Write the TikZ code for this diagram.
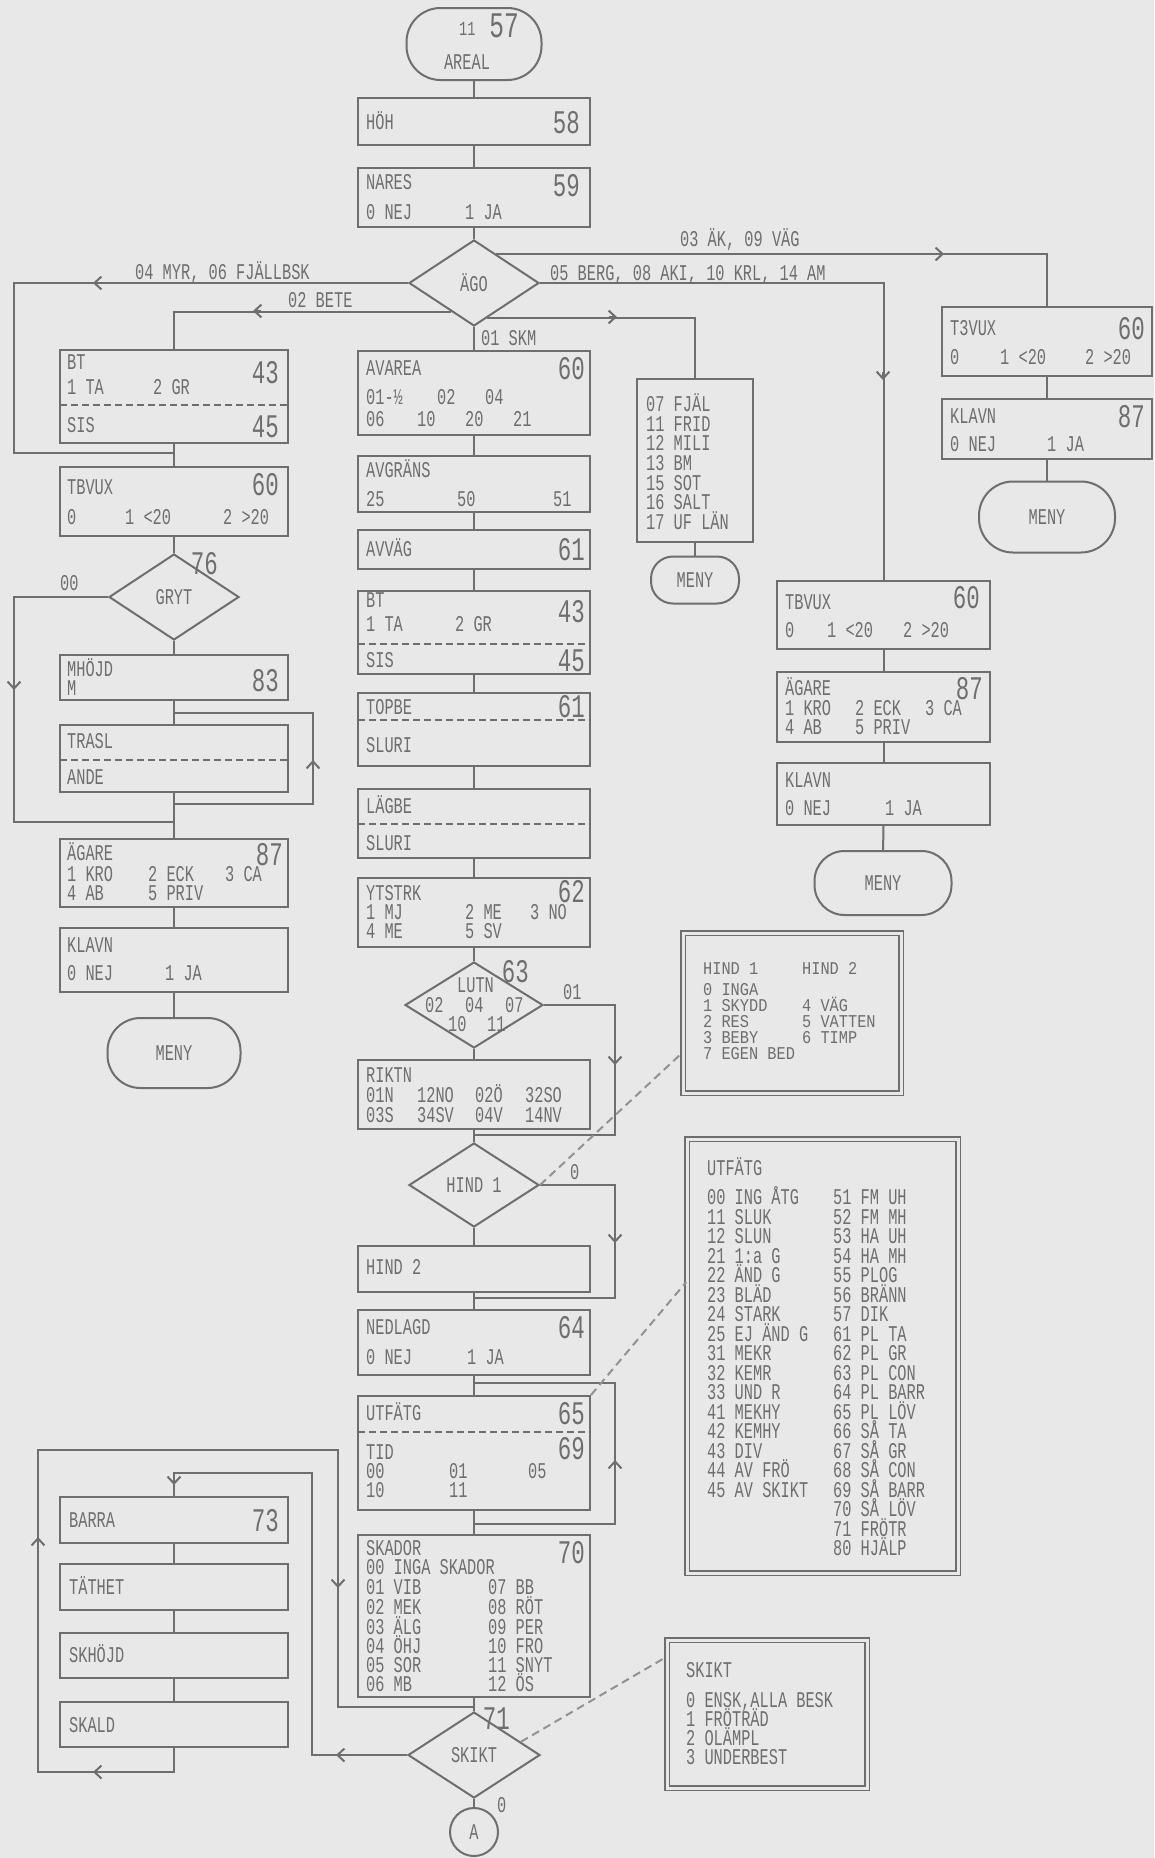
\documentclass[tikz,border=0pt]{standalone}
\usepackage{fontspec}
\usetikzlibrary{shapes.geometric,arrows.meta,calc}
\newfontfamily\monoA{Liberation Mono}[FakeStretch=0.68]
\newfontfamily\monoB{Liberation Mono}[FakeStretch=0.85]
\definecolor{bg}{RGB}{232,232,232}
\definecolor{ink}{RGB}{110,110,110}
\newcommand\sfnt{\monoA\fontsize{22.5pt}{20pt}\selectfont}
\newcommand\bfnt{\monoA\fontsize{33pt}{33pt}\selectfont}
\newcommand\hfnt{\monoB\fontsize{18pt}{15pt}\selectfont}
\newcount\mytnum
\newcommand\mytx[3]{\global\advance\mytnum by 1\relax\node[txt] (T\the\mytnum) at (#1,#2) {#3};}
\newcommand\mynum[3]{\global\advance\mytnum by 1\relax\node[num] (T\the\mytnum) at (#1,#2) {#3};}
\newcommand\myhx[3]{\global\advance\mytnum by 1\relax\node[txt,font=\hfnt,text height=12pt] (T\the\mytnum) at (#1,#2) {#3};}
\newcommand\mybox[5]{%
  \pgfmathsetmacro\bxA{(#2+#4)/2}\pgfmathsetmacro\bxB{(#3+#5)/2}%
  \pgfmathsetmacro\bxW{#4-#2}\pgfmathsetmacro\bxH{#5-#3}%
  \node[box,minimum width=\bxW pt,minimum height=\bxH pt] (#1) at (\bxA,\bxB) {};}
\newcommand\mydiv[3]{\draw[dvd] (#1,#3) -- (#2,#3);}
\newcommand\myarR[2]{\draw[arw] (#1-8,#2) -- (#1,#2);}
\newcommand\myarL[2]{\draw[arw] (#1+8,#2) -- (#1,#2);}
\newcommand\myarD[2]{\draw[arw] (#1,#2-8) -- (#1,#2);}
\newcommand\myarU[2]{\draw[arw] (#1,#2+8) -- (#1,#2);}
\newcommand\mkb[2]{\makebox[#1pt][l]{#2}}
\tikzset{
  box/.style={draw=ink, line width=2pt, inner sep=0pt},
  dbox/.style={draw=ink, line width=1.6pt, double=bg, double distance=3pt, inner sep=0pt},
  term/.style={draw=ink, line width=2pt, inner sep=0pt, font=\sfnt, text=ink},
  dia/.style={diamond, draw=ink, line width=2pt, inner sep=0pt, font=\sfnt, text=ink},
  circ/.style={circle, draw=ink, line width=2pt, inner sep=0pt, minimum size=48pt, font=\sfnt, text=ink},
  txt/.style={font=\sfnt, text=ink, inner sep=0pt, anchor=west, text height=15pt, text depth=0pt},
  num/.style={font=\bfnt, text=ink, inner sep=0pt, anchor=east, text height=22pt, text depth=0pt},
  ctr/.style={font=\sfnt, text=ink, inner sep=0pt, text height=15pt, text depth=0pt},
  ln/.style={draw=ink, line width=2pt},
  dvd/.style={draw=ink, line width=1.6pt, dash pattern=on 7pt off 4pt},
  dsh/.style={draw=ink!75, line width=2pt, dash pattern=on 8pt off 5pt},
  arw/.style={draw=ink, line width=2pt, -{Straight Barb[length=7pt,width=13pt]}}
}
\begin{document}
\begin{tikzpicture}[x=1pt,y=-1pt]
\fill[bg] (0,0) rectangle (1154,1858);
\useasboundingbox (0,0) rectangle (1154,1858);

% ---------------- top ----------------
\node[term, minimum width=135pt, minimum height=72pt, rounded corners=34pt] (areal) at (474,44) {};
\node[txt, font=\monoA\fontsize{20pt}{20pt}\selectfont, text height=13pt] (n11) at (459,29) {11};
\node[num, font=\monoA\fontsize{36pt}{36pt}\selectfont, text height=24pt] (n57) at (519,25) {57};
\node[ctr] (arealt) at (467,62) {AREAL};

\mybox{hoh}{358}{98}{590}{145}
\mytx{366}{122}{HÖH} \mynum{580}{122}{58}
\mybox{nares}{358}{168}{590}{227}
\mytx{366}{182}{NARES} \mynum{580}{185}{59}
\mytx{366}{212}{\mkb{99}{0 NEJ}1 JA}

\node[dia, minimum width=130pt, minimum height=86pt] (ago) at (474,283) {ÄGO};
\coordinate (agoSW) at ($(ago.west)!0.65!(ago.south)$);
\coordinate (agoNE) at ($(ago.north)!0.33!(ago.east)$);
\coordinate (agoSE) at ($(ago.east)!0.8!(ago.south)$);

\mytx{135}{272}{04 MYR, 06 FJÄLLBSK}
\mytx{288}{300}{02 BETE}
\mytx{680}{239}{03 ÄK, 09 VÄG}
\mytx{550}{273}{05 BERG, 08 AKI, 10 KRL, 14 AM}
\mytx{481}{338}{01 SKM}

% ---------------- left column ----------------
\mybox{bt1}{60}{350}{288}{443}
\mydiv{60}{288}{405}
\mytx{67}{362}{BT} \mytx{67}{387}{\mkb{86}{1 TA}2 GR} \mynum{279}{372}{43}
\mytx{67}{425}{SIS} \mynum{279}{426}{45}
\mybox{tb1}{60}{467}{288}{536}
\mytx{67}{487}{TBVUX} \mynum{279}{484}{60}
\mytx{67}{517}{\mkb{58}{0}\mkb{98}{1 <20}2 >20}
\node[dia, minimum width=130pt, minimum height=86pt] (gryt) at (174,597) {GRYT};
\mynum{218}{563}{76}
\mytx{60}{583}{00}
\mybox{mh}{60}{655}{288}{700}
\mytx{67}{669}{MHÖJD} \mytx{67}{688}{M} \mynum{279}{680}{83}
\mybox{trasl}{60}{725}{288}{792}
\mydiv{60}{288}{760}
\mytx{67}{741}{TRASL} \mytx{67}{777}{ANDE}
\mybox{ag1}{60}{839}{288}{907}
\mytx{67}{853}{ÄGARE} \mynum{283}{854}{87}
\mytx{67}{874}{\mkb{81}{1 KRO}\mkb{77}{2 ECK}3 CA}
\mytx{67}{893}{\mkb{81}{4 AB}5 PRIV}
\mybox{kl1}{60}{928}{288}{992}
\mytx{67}{945}{KLAVN} \mytx{67}{973}{\mkb{98}{0 NEJ}1 JA}
\node[term, minimum width=133pt, minimum height=70pt, rounded corners=33pt] (meny1) at (174,1053) {MENY};

% ---------------- middle column ----------------
\mybox{avarea}{358}{351}{590}{435}
\mytx{366}{368}{AVAREA} \mynum{585}{368}{60}
\mytx{366}{397}{\mkb{71}{01-½}\mkb{48}{02}04}
\mytx{366}{419}{\mkb{51}{06}\mkb{48}{10}\mkb{48}{20}21}
\mybox{avgr}{358}{456}{590}{512}
\mytx{366}{470}{AVGRÄNS} \mytx{366}{499}{\mkb{91}{25}\mkb{96}{50}51}
\mybox{avvag}{358}{530}{590}{569}
\mytx{366}{549}{AVVÄG} \mynum{585}{549}{61}
\mybox{bt2}{358}{591}{590}{674}
\mydiv{358}{590}{644}
\mytx{366}{600}{BT} \mytx{366}{624}{\mkb{89}{1 TA}2 GR} \mynum{585}{611}{43}
\mytx{366}{660}{SIS} \mynum{585}{660}{45}
\mybox{topbe}{358}{693}{590}{766}
\mydiv{358}{590}{720}
\mytx{366}{707}{TOPBE} \mynum{585}{706}{61} \mytx{366}{745}{SLURI}
\mybox{lagbe}{358}{789}{590}{858}
\mydiv{358}{590}{824}
\mytx{366}{806}{LÄGBE} \mytx{366}{843}{SLURI}
\mybox{yts}{358}{878}{590}{947}
\mytx{366}{893}{YTSTRK} \mynum{585}{891}{62}
\mytx{366}{912}{\mkb{99}{1 MJ}\mkb{65}{2 ME}3 NO}
\mytx{366}{931}{\mkb{99}{4 ME}5 SV}

\node[dia, minimum width=138pt, minimum height=86pt] (lutn) at (474,1005) {};
\mytx{457}{985}{LUTN}
\mytx{425}{1005}{\mkb{40}{02}\mkb{40}{04}07}
\mytx{448}{1024}{\mkb{39}{10}11}
\mynum{529}{971}{63}
\mytx{563}{992}{01}

\mybox{riktn}{358}{1060}{590}{1129}
\mytx{366}{1075}{RIKTN}
\mytx{366}{1095}{\mkb{51}{01N}\mkb{58}{12NO}\mkb{50}{02Ö}32SO}
\mytx{366}{1115}{\mkb{51}{03S}\mkb{58}{34SV}\mkb{50}{04V}14NV}

\node[dia, minimum width=130pt, minimum height=84pt] (hind1) at (474,1185) {HIND 1};
\mytx{570}{1172}{0}
\mybox{hind2}{358}{1246}{590}{1292}
\mytx{366}{1267}{HIND 2}
\mybox{ned}{358}{1310}{590}{1375}
\mytx{366}{1327}{NEDLAGD} \mynum{585}{1327}{64}
\mytx{366}{1357}{\mkb{101}{0 NEJ}1 JA}
\mybox{utf}{358}{1396}{590}{1510}
\mydiv{358}{590}{1432}
\mytx{366}{1413}{UTFÄTG} \mynum{585}{1413}{65}
\mytx{366}{1452}{TID} \mynum{585}{1448}{69}
\mytx{366}{1471}{\mkb{83}{00}\mkb{79}{01}05}
\mytx{366}{1490}{\mkb{83}{10}11}
\mybox{skador}{358}{1535}{590}{1697}
\mytx{366}{1548}{SKADOR} \mynum{585}{1552}{70}
\mytx{366}{1567}{00 INGA SKADOR}
\mytx{366}{1587}{\mkb{122}{01 VIB}07 BB}
\mytx{366}{1607}{\mkb{122}{02 MEK}08 RÖT}
\mytx{366}{1627}{\mkb{122}{03 ÄLG}09 PER}
\mytx{366}{1646}{\mkb{122}{04 ÖHJ}10 FRO}
\mytx{366}{1665}{\mkb{122}{05 SOR}11 SNYT}
\mytx{366}{1684}{\mkb{122}{06 MB}12 ÖS}
\node[dia, minimum width=132pt, minimum height=86pt] (skikt) at (474,1755) {SKIKT};
\coordinate (skNE) at ($(skikt.east)!0.3!(skikt.north)$);
\mynum{510}{1718}{71}
\mytx{497}{1805}{0}
\node[circ] (A) at (474,1832) {A};

% ---------------- right columns ----------------
\mybox{fj}{637}{379}{753}{542}
\foreach \s [count=\i from 0] in {07 FJÄL,11 FRID,12 MILI,13 BM,15 SOT,16 SALT,17 UF LÄN}
  {\mytx{646}{404+19.67*\i}{\s}}
\node[term, minimum width=88pt, minimum height=47pt, rounded corners=22pt] (meny2) at (695,580) {MENY};

\mybox{tb2}{777}{581}{990}{649}
\mytx{785}{602}{TBVUX} \mynum{980}{597}{60}
\mytx{785}{630}{\mkb{42}{0}\mkb{76}{1 <20}2 >20}
\mybox{ag2}{777}{672}{990}{742}
\mytx{785}{688}{ÄGARE} \mynum{983}{688}{87}
\mytx{785}{708}{\mkb{70}{1 KRO}\mkb{70}{2 ECK}3 CA}
\mytx{785}{727}{\mkb{70}{4 AB}5 PRIV}
\mybox{kl2}{777}{763}{990}{825}
\mytx{785}{780}{KLAVN} \mytx{785}{808}{\mkb{100}{0 NEJ}1 JA}
\node[term, minimum width=137pt, minimum height=64pt, rounded corners=30pt] (meny3) at (883,883) {MENY};

\mybox{tb3}{942}{307}{1152}{376}
\mytx{950}{328}{T3VUX} \mynum{1145}{328}{60}
\mytx{950}{357}{\mkb{50}{0}\mkb{85}{1 <20}2 >20}
\mybox{kl3}{942}{399}{1152}{459}
\mytx{950}{416}{KLAVN} \mynum{1145}{416}{87}
\mytx{950}{444}{\mkb{97}{0 NEJ}1 JA}
\node[term, minimum width=136pt, minimum height=71pt, rounded corners=34pt] (meny4) at (1047,517) {MENY};

% ---------------- bottom left ----------------
\mybox{barra}{60}{1497}{288}{1543}
\mytx{69}{1520}{BARRA} \mynum{279}{1520}{73}
\mybox{tath}{60}{1564}{288}{1610}
\mytx{69}{1587}{TÄTHET}
\mybox{skh}{60}{1633}{288}{1678}
\mytx{69}{1655}{SKHÖJD}
\mybox{skald}{60}{1702}{288}{1747}
\mytx{69}{1725}{SKALD}

% ---------------- explanation boxes ----------------
\node[dbox, minimum width=218pt, minimum height=160pt] (hindbox) at (792,1013) {};
\myhx{703}{968}{\mkb{99}{HIND 1}HIND 2}
\myhx{703}{989}{0 INGA}
\myhx{703}{1005}{\mkb{99}{1 SKYDD}4 VÄG}
\myhx{703}{1021}{\mkb{99}{2 RES}5 VATTEN}
\myhx{703}{1037}{\mkb{99}{3 BEBY}6 TIMP}
\myhx{703}{1053}{7 EGEN BED}

\node[dbox, minimum width=271pt, minimum height=434pt] (utfbox) at (822.5,1356) {};
\mytx{707}{1168}{UTFÄTG}
\foreach \s [count=\i from 0] in {00 ING ÅTG,11 SLUK,12 SLUN,21 1:a G,22 ÄND G,23 BLÄD,24 STARK,25 EJ ÄND G,31 MEKR,32 KEMR,33 UND R,41 MEKHY,42 KEMHY,43 DIV,44 AV FRÖ,45 AV SKIKT}
  {\mytx{707}{1197+19.5*\i}{\s}}
\foreach \s [count=\i from 0] in {51 FM UH,52 FM MH,53 HA UH,54 HA MH,55 PLOG,56 BRÄNN,57 DIK,61 PL TA,62 PL GR,63 PL CON,64 PL BARR,65 PL LÖV,66 SÅ TA,67 SÅ GR,68 SÅ CON,69 SÅ BARR,70 SÅ LÖV,71 FRÖTR,80 HJÄLP}
  {\mytx{833}{1197+19.5*\i}{\s}}

\node[dbox, minimum width=200pt, minimum height=148pt] (skbox) at (767,1714) {};
\mytx{686}{1670}{SKIKT}
\mytx{686}{1700}{0 ENSK,ALLA BESK}
\mytx{686}{1719}{1 FRÖTRÄD}
\mytx{686}{1738}{2 OLÄMPL}
\mytx{686}{1757}{3 UNDERBEST}

% ---------------- junctions ----------------
\coordinate (j1) at (474,1135);
\coordinate (j2) at (474,1298);
\coordinate (j3) at (474,1383);
\coordinate (j4) at (474,1524);
\coordinate (j5) at (174,804);
\coordinate (j6) at (174,713);
\coordinate (j7) at (174,822);
\coordinate (j8) at (174,453);
\coordinate (j9) at (474,1707);

% ---------------- connectors ----------------
\draw[ln] (areal) -- (hoh);
\draw[ln] (hoh) -- (nares);
\draw[ln] (nares) -- (ago);
\draw[ln] (ago) -- (avarea);
\draw[ln] (avarea) -- (avgr);
\draw[ln] (avgr) -- (avvag);
\draw[ln] (avvag) -- (bt2);
\draw[ln] (bt2) -- (topbe);
\draw[ln] (topbe) -- (lagbe);
\draw[ln] (lagbe) -- (yts);
\draw[ln] (yts) -- (lutn);
\draw[ln] (lutn) -- (riktn);
\draw[ln] (riktn) -- (hind1);
\draw[ln] (hind1) -- (hind2);
\draw[ln] (hind2) -- (ned);
\draw[ln] (ned) -- (utf);
\draw[ln] (utf) -- (skador);
\draw[ln] (skador) -- (skikt);
\draw[ln] (skikt) -- (A);

\draw[ln] (bt1) -- (tb1);
\draw[ln] (tb1) -- (gryt);
\draw[ln] (gryt) -- (mh);
\draw[ln] (mh) -- (trasl);
\draw[ln] (trasl) -- (ag1);
\draw[ln] (ag1) -- (kl1);
\draw[ln] (kl1) -- (meny1);

\draw[ln] (fj) -- (meny2);
\draw[ln] (tb2) -- (ag2);
\draw[ln] (ag2) -- (kl2);
\draw[ln] (kl2) -- (meny3);
\draw[ln] (tb3) -- (kl3);
\draw[ln] (kl3) -- (meny4);

\draw[ln] (barra) -- (tath);
\draw[ln] (tath) -- (skh);
\draw[ln] (skh) -- (skald);

% branches of AGO
\draw[ln] (ago.west) -- (14,283) |- (j8);
\draw[ln] (agoSW) -| (bt1.north);
\draw[ln] (agoNE) -| (tb3.north);
\draw[ln] (ago.east) -| (tb2.north);
\draw[ln] (agoSE) -| (fj.north);
\myarL{93}{283}
\myarL{253}{311}
\myarR{944}{254}
\myarR{617}{317}
\myarD{883}{380}

% left loops
\draw[ln] (gryt.west) -- (14,597) |- (j7);
\myarD{14}{690}
\draw[ln] (j5) -- (313,804) |- (j6);
\myarU{313}{760}

% middle loops
\draw[ln] (lutn.east) -- (615,1005) |- (j1);
\myarD{615}{1065}
\draw[ln] (hind1.east) -- (615,1185) |- (j2);
\myarD{615}{1243}
\draw[ln] (j4) -- (615,1524) |- (j3);
\myarU{615}{1460}

% bottom loops
\draw[ln] (skikt.west) -- (312,1755) |- (174,1473) -- (barra.north);
\myarL{336}{1755}
\myarD{174}{1485}
\draw[ln] (skald.south) -- (174,1772) -- (38,1772) -- (38,1450) -- (338,1450) |- (j9);
\myarL{93}{1772}
\myarU{38}{1537}
\myarD{338}{1588}

% dashed references
\draw[dsh] (hind1.east) -- ([yshift=41pt]hindbox.south west);
\draw[dsh] (utf.north east) -- ([yshift=74pt]utfbox.west);
\draw[dsh] (skNE) -- ([yshift=57pt]skbox.west);
\end{tikzpicture}
\end{document}
